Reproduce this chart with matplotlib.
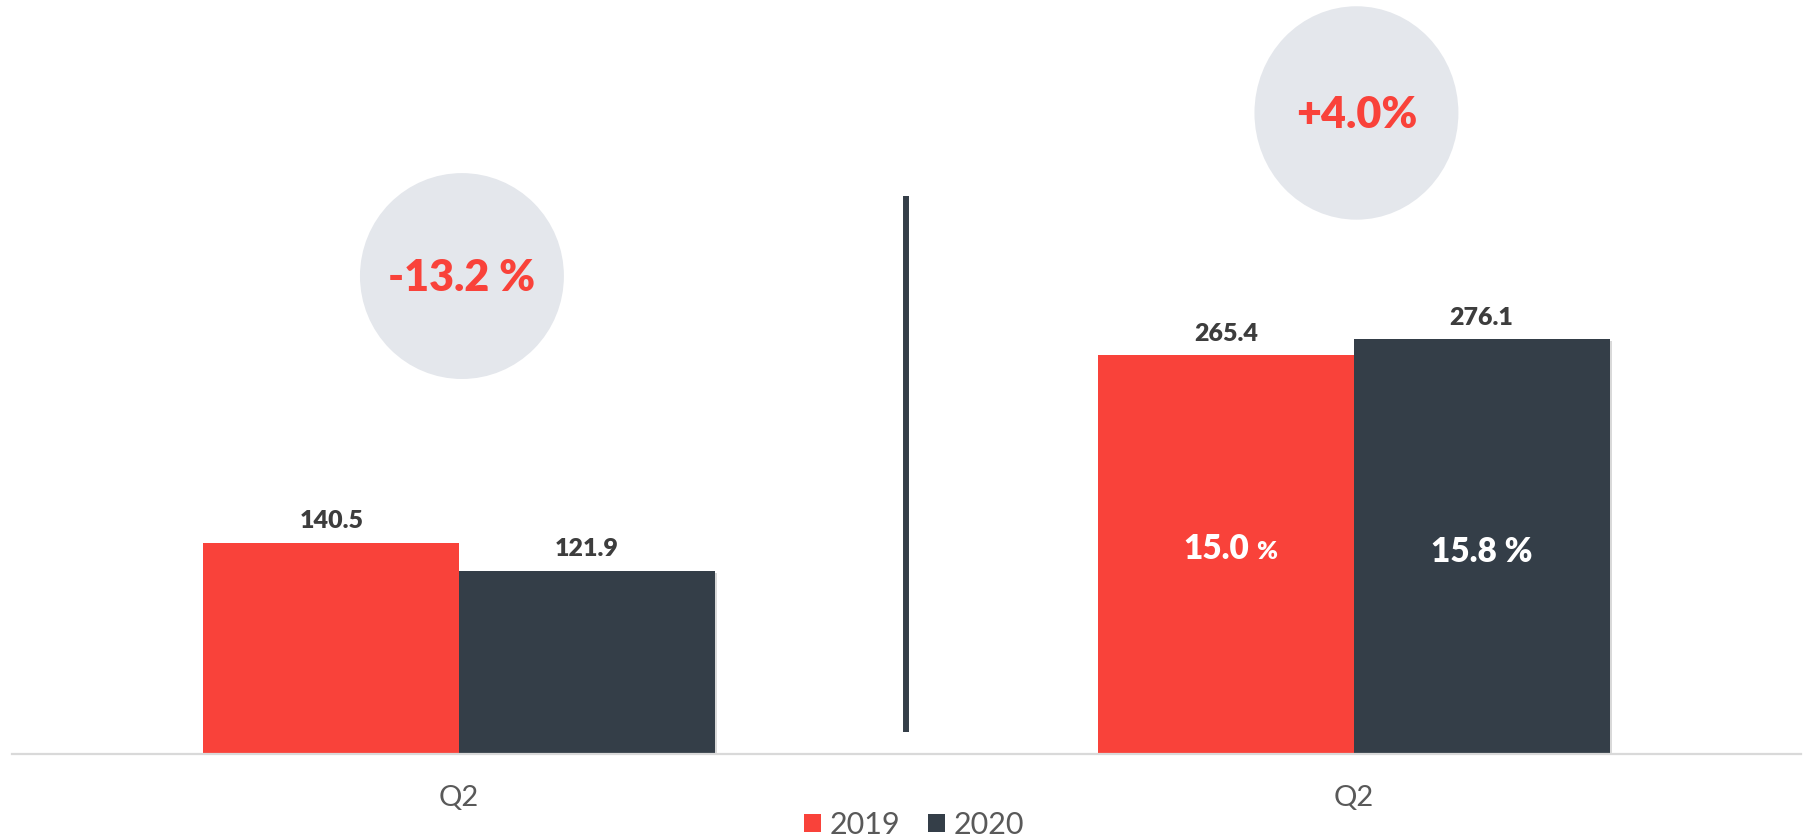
import matplotlib
matplotlib.use("Agg")
import matplotlib.pyplot as plt
import matplotlib.patheffects as pe
from matplotlib.patches import Ellipse, Patch

# ---- data ----
categories = ["Q2", "Q2"]
series_names = ["2019", "2020"]
values_2019 = [140.5, 265.4]
values_2020 = [121.9, 276.1]
change_labels = ["-13.2 %", "+4.0%"]
share_2019 = ["", "15.0"]
share_2020 = ["", "15.8"]

# ---- style ----
RED = "#F9423A"
DARK = "#343E48"
BUBBLE = "#E4E7EC"
LABEL = "#3D3D3D"
TICK = "#595959"
AXIS = "#D9D9D9"
HEAVY = "heavy"

plt.rcParams["font.family"] = ["Lato", "DejaVu Sans"]

W, H, DPI = 1808, 839, 100
fig = plt.figure(figsize=(W / DPI, H / DPI), dpi=DPI)
ax = fig.add_axes([12 / W, (H - 754) / H, (1801 - 12) / W, 754 / H])

px_per_unit = 1.503  # vertical pixels per value unit
ax.set_xlim(-0.5, 1.5)
ax.set_ylim(0, 754 / px_per_unit)

bar_w = 0.286
x = list(range(len(categories)))
x_left = [i - bar_w / 2 for i in x]
x_right = [i + bar_w / 2 for i in x]

bars19 = ax.bar(x_left, values_2019, width=bar_w, color=RED, zorder=3)
bars20 = ax.bar(x_right, values_2020, width=bar_w, color=DARK, zorder=3)
for b in bars20:
    b.set_path_effects([
        pe.SimplePatchShadow(offset=(1.5, -1.5), shadow_rgbFace="#b5b5b5", alpha=0.5),
        pe.Normal(),
    ])

# value labels above the bars
for xs, vals in ((x_left, values_2019), (x_right, values_2020)):
    for xi, v in zip(xs, vals):
        ax.annotate(f"{v:.1f}", xy=(xi, v), xytext=(0, 10.4), textcoords="offset points",
                    ha="center", va="baseline", fontsize=18, fontweight=HEAVY,
                    color=LABEL, zorder=5)

# share labels inside the bars
share_y = 130
for xi, s in zip(x_left, share_2019):
    if s:
        ax.annotate(s, xy=(xi, share_y), xytext=(17, 0), textcoords="offset points",
                    ha="right", va="baseline", fontsize=24, fontweight=HEAVY,
                    color="white", zorder=5)
        ax.annotate("%", xy=(xi, share_y), xytext=(22, 0), textcoords="offset points",
                    ha="left", va="baseline", fontsize=18, fontweight=HEAVY,
                    color="white", zorder=5)
for xi, s in zip(x_right, share_2020):
    if s:
        ax.annotate(f"{s} %", xy=(xi, share_y - 2), ha="center", va="baseline",
                    fontsize=24, fontweight=HEAVY, color="white", zorder=5)

# change bubbles
bubble_y = [318, 426.5]
bubble_h = [137, 142]
for xi, by, bh, txt in zip(x, bubble_y, bubble_h, change_labels):
    ax.add_patch(Ellipse((xi + 0.003, by), width=0.228, height=bh,
                         facecolor=BUBBLE, edgecolor="none", zorder=2))
    ax.text(xi + 0.003, by - 15 / px_per_unit, txt, ha="center", va="baseline",
            fontsize=31, fontweight=HEAVY, color=RED, zorder=4)

# divider between the two groups
ax.plot([0.5, 0.5], [(754 - 732) / px_per_unit, (754 - 196) / px_per_unit],
        color=DARK, linewidth=4.3, solid_capstyle="butt", zorder=3)

# axes styling
for side in ("top", "right", "left"):
    ax.spines[side].set_visible(False)
ax.spines["bottom"].set_color(AXIS)
ax.spines["bottom"].set_linewidth(1.6)
ax.spines["bottom"].set_zorder(4)
ax.set_yticks([])
ax.set_xticks(x)
ax.set_xticklabels(categories)
ax.tick_params(axis="x", length=0, pad=22, labelsize=21, labelcolor=TICK)

# legend
handles = [Patch(facecolor=RED, edgecolor="none"), Patch(facecolor=DARK, edgecolor="none")]
fig.legend(handles, series_names, loc="center", bbox_to_anchor=(914 / W, (H - 825) / H),
           ncol=2, frameon=False, fontsize=22, handlelength=0.55, handleheight=0.55,
           handletextpad=0.3, columnspacing=0.9, labelcolor=TICK,
           borderpad=0, borderaxespad=0)

fig.savefig("out.png", dpi=DPI)
